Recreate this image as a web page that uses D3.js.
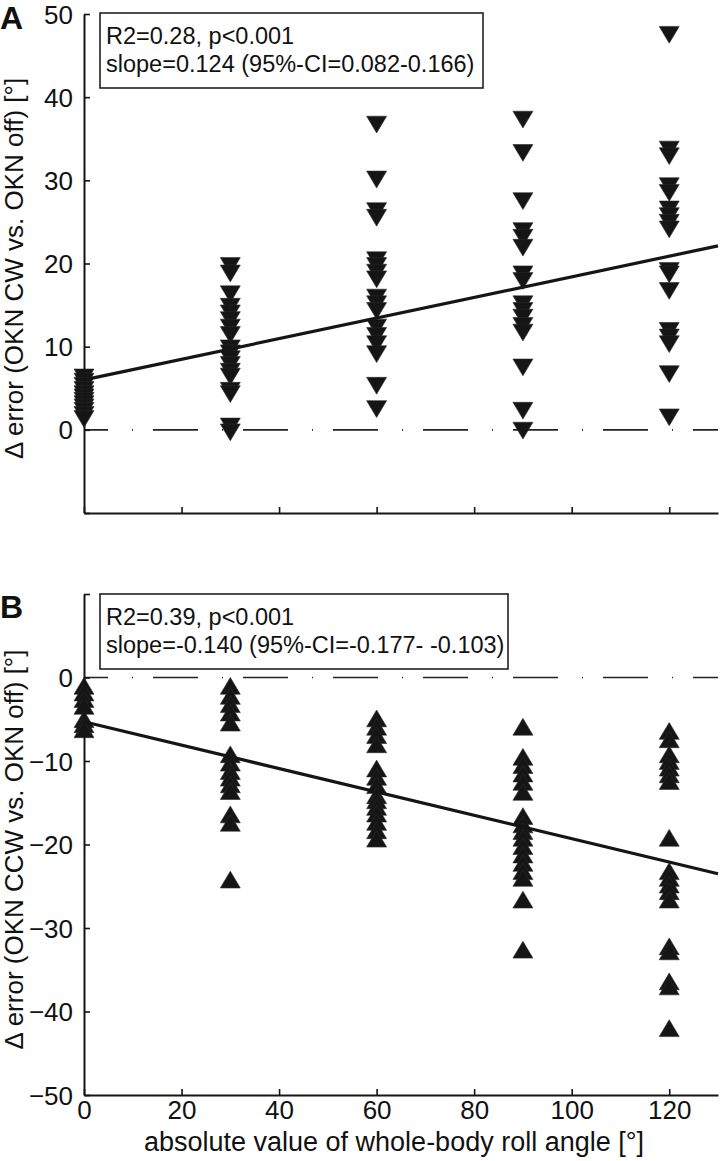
<!DOCTYPE html>
<html>
<head>
<meta charset="utf-8">
<script src="https://cdn.jsdelivr.net/npm/d3@7"></script>
<style>
  html, body { margin: 0; padding: 0; background: #fff; }
  svg { display: block; }
  text { font-family: "Liberation Sans", Arial, Helvetica, sans-serif; fill: #111; }
</style>
</head>
<body>
<svg id="chart" width="720" height="1161"></svg>
<script>
// ---------- data ----------
const angles = [0, 30, 60, 90, 120];
const xTicks = [0, 20, 40, 60, 80, 100, 120];
const yTicksA = [-10, 0, 10, 20, 30, 40, 50];
const yTickLabelsA = [0, 10, 20, 30, 40, 50];
const yTicksB = [-50, -40, -30, -20, -10, 0, 10];
const yTickLabelsB = [-50, -40, -30, -20, -10, 0];

// Panel A: OKN CW vs OKN off
const cwAt0   = [6.3, 5.8, 5.3, 4.8, 4.3, 3.9, 3.5, 3.1, 2.7, 2.3, 1.8, 1.3];
const cwAt30  = [19.7, 18.8, 16.3, 14.8, 14.0, 13.2, 12.3, 11.4, 9.8, 9.2, 8.5, 7.8, 7.0, 6.4, 4.7, 4.3, 0.4, -0.3];
const cwAt60  = [36.7, 30.1, 26.3, 25.5, 20.4, 19.7, 18.9, 18.1, 15.9, 15.1, 14.3, 12.3, 11.3, 10.3, 9.1, 5.3, 2.5];
const cwAt90  = [37.3, 33.3, 27.5, 23.9, 23.1, 21.9, 18.7, 17.9, 15.1, 14.3, 13.5, 12.5, 11.7, 7.5, 2.3, -0.1];
const cwAt120 = [47.5, 33.7, 32.9, 29.3, 28.5, 26.5, 25.7, 24.9, 24.1, 19.1, 18.7, 16.7, 11.9, 11.1, 10.3, 6.7, 1.5];
const fitA = { intercept: 6.0, slope: 0.124 };
const statsA = ["R2=0.28, p<0.001", "slope=0.124 (95%-CI=0.082-0.166)"];

// Panel B: OKN CCW vs OKN off
const ccwAt0   = [-1.0, -1.8, -2.6, -3.4, -5.0, -5.6, -6.2];
const ccwAt30  = [-1.0, -2.2, -3.2, -4.2, -5.4, -9.2, -10.2, -11.2, -12.0, -12.8, -13.6, -16.4, -17.4, -24.2];
const ccwAt60  = [-4.9, -5.9, -6.9, -8.0, -10.9, -11.9, -12.9, -14.1, -14.7, -15.5, -16.3, -17.3, -18.3, -19.3];
const ccwAt90  = [-5.9, -9.5, -10.5, -11.5, -12.5, -13.7, -16.6, -17.6, -18.4, -19.2, -20.2, -21.2, -22.2, -23.2, -24.0, -26.6, -32.6];
const ccwAt120 = [-6.4, -7.4, -9.2, -10.0, -10.8, -11.6, -12.4, -19.2, -23.2, -24.0, -24.8, -25.6, -26.6, -32.2, -32.8, -36.4, -37.0, -42.0];
const fitB = { intercept: -5.3, slope: -0.140 };
const statsB = ["R2=0.39, p<0.001", "slope=-0.140 (95%-CI=-0.177- -0.103)"];

const yLabelA = "\u0394 error (OKN CW vs. OKN off) [\u00b0]";
const yLabelB = "\u0394 error (OKN CCW vs. OKN off) [\u00b0]";
const xLabel = "absolute value of whole-body roll angle [\u00b0]";

// ---------- layout ----------
const svg = d3.select("#chart");
const left = 84, right = 718;
const x = d3.scaleLinear().domain([0, 130]).range([left, right]);
const tickFont = 26, labelFont = 27, yLabelFont = 26, boxFont = 23.5;
const ink = "#151515";

function toPoints(groups) {
  const pts = [];
  groups.forEach((vals, i) => vals.forEach(v => pts.push({ a: angles[i], v })));
  return pts;
}

function drawPanel(opts) {
  const { y, yTicks, yTickLabels, points, fit, stats, letter, letterY, yLabel, down, showX, box } = opts;
  const g = svg.append("g");
  const [yBot, yTop] = y.range();

  // zero dash-dot line
  g.append("line")
    .attr("x1", x(0)).attr("x2", x(130))
    .attr("y1", y(0)).attr("y2", y(0))
    .attr("stroke", "#222").attr("stroke-width", 1.6)
    .attr("stroke-dasharray", "45,24,1,20")
    .attr("stroke-dashoffset", 21);

  // markers
  const hw = 10, hh = 8.4;
  g.append("g").selectAll("path").data(points).join("path")
    .attr("transform", d => `translate(${x(d.a)},${y(d.v)})`)
    .attr("d", down
      ? `M${-hw},${-hh}L${hw},${-hh}L0,${hh}Z`
      : `M${-hw},${hh}L${hw},${hh}L0,${-hh}Z`)
    .attr("fill", ink).attr("stroke", "#2a2a2a").attr("stroke-width", 0.6);

  // regression line
  const fitLine = d3.line().x(d => x(d)).y(d => y(fit.intercept + fit.slope * d));
  g.append("path").datum([0, 130]).attr("d", fitLine)
    .attr("fill", "none").attr("stroke", ink).attr("stroke-width", 3.2);

  // y axis
  const yAxis = d3.axisLeft(y).tickValues(yTicks)
    .tickFormat(d => yTickLabels.includes(d) ? d3.format("d")(d) : "")
    .tickSizeInner(-6).tickSizeOuter(0).tickPadding(11);
  const ya = g.append("g").attr("transform", `translate(${left},0)`).call(yAxis);
  ya.select(".domain").attr("stroke", ink).attr("stroke-width", 2);
  ya.selectAll(".tick line").attr("stroke", ink).attr("stroke-width", 1.6);
  ya.selectAll(".tick text").attr("font-size", tickFont).attr("font-family", "Liberation Sans, Arial").attr("fill", "#111").attr("dy", "0.35em");

  // x axis
  const xAxis = d3.axisBottom(x).tickValues(xTicks)
    .tickFormat(d => showX ? d3.format("d")(d) : "")
    .tickSizeInner(-6).tickSizeOuter(0).tickPadding(6);
  const xa = g.append("g").attr("transform", `translate(0,${yBot})`).call(xAxis);
  xa.select(".domain").attr("stroke", ink).attr("stroke-width", 2);
  xa.selectAll(".tick line").attr("stroke", ink).attr("stroke-width", 1.6);
  xa.selectAll(".tick text").attr("font-size", tickFont).attr("font-family", "Liberation Sans, Arial").attr("fill", "#111");

  // stats box
  g.append("rect")
    .attr("x", box.x).attr("y", box.y).attr("width", box.w).attr("height", box.h)
    .attr("fill", "#fff").attr("stroke", "#222").attr("stroke-width", 1.6);
  g.selectAll("text.stat").data(stats).join("text").attr("class", "stat")
    .attr("x", box.x + 6).attr("y", (d, i) => box.y + 31 + i * 28)
    .attr("font-size", boxFont).text(d => d);

  // panel letter
  g.append("text").attr("x", 0).attr("y", letterY)
    .attr("font-size", 32).attr("font-weight", "bold").text(letter);

  // y label
  g.append("text")
    .attr("transform", `translate(23,${(yBot + yTop) / 2 + 5}) rotate(-90)`)
    .attr("text-anchor", "middle").attr("font-size", yLabelFont).text(yLabel);
}

const yA = d3.scaleLinear().domain([-10, 50]).range([513, 14]);
const yB = d3.scaleLinear().domain([-50, 10]).range([1095, 594]);

drawPanel({
  y: yA, yTicks: yTicksA, yTickLabels: yTickLabelsA,
  points: toPoints([cwAt0, cwAt30, cwAt60, cwAt90, cwAt120]),
  fit: fitA, stats: statsA, letter: "A", letterY: 29, yLabel: yLabelA,
  down: true, showX: false, box: { x: 100, y: 13, w: 383, h: 75 }
});
drawPanel({
  y: yB, yTicks: yTicksB, yTickLabels: yTickLabelsB,
  points: toPoints([ccwAt0, ccwAt30, ccwAt60, ccwAt90, ccwAt120]),
  fit: fitB, stats: statsB, letter: "B", letterY: 618, yLabel: yLabelB,
  down: false, showX: true, box: { x: 100, y: 594, w: 408, h: 75 }
});

svg.append("text")
  .attr("x", 394).attr("y", 1151)
  .attr("text-anchor", "middle").attr("font-size", labelFont).text(xLabel);
</script>
</body>
</html>
